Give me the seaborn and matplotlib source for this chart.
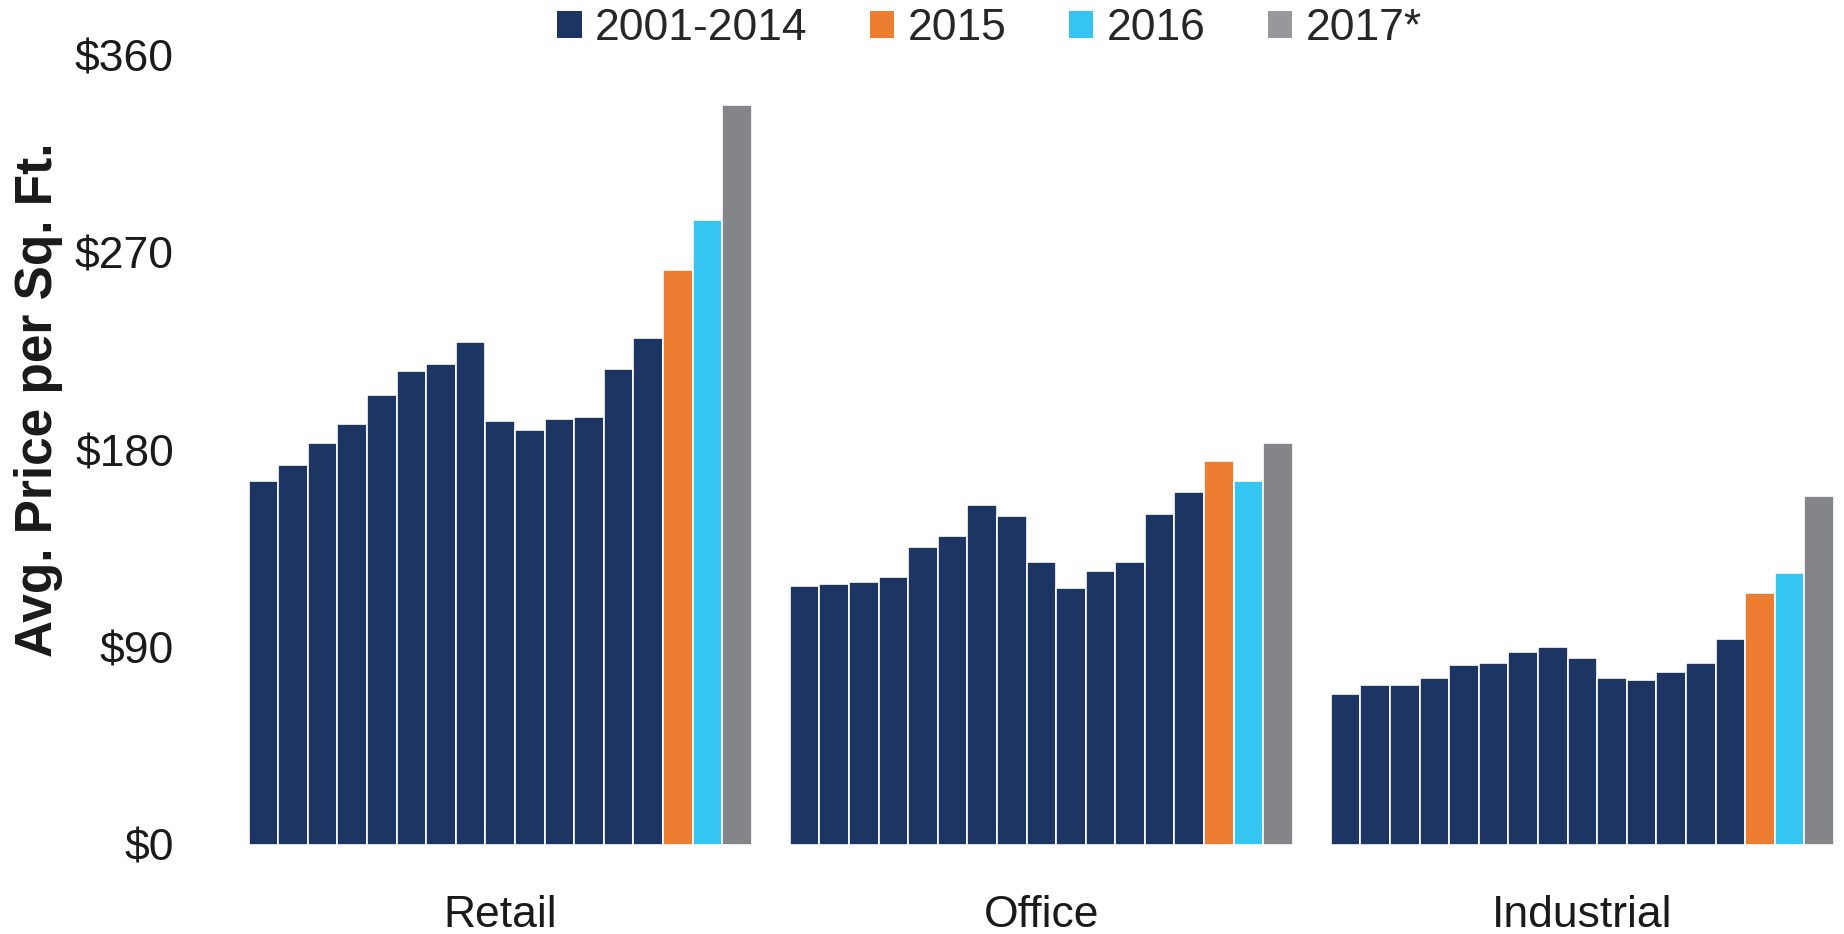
import matplotlib.pyplot as plt
import pandas as pd
import seaborn as sns
from matplotlib.patches import Patch

# Data (avg. price per sq. ft., 2001-2017)
categories = ['Retail', 'Office', 'Industrial']
years = [str(y) for y in range(2001, 2018)]
retail = [166, 173, 183, 192, 205, 216, 219, 229, 193, 189, 194, 195, 217, 231, 262, 285, 337]
office = [118, 119, 120, 122, 136, 141, 155, 150, 129, 117, 125, 129, 151, 161, 175, 166, 183]
industrial = [69, 73, 73, 76, 82, 83, 88, 90, 85, 76, 75, 79, 83, 94, 115, 124, 159]
legend_labels = ['2001-2014', '2015', '2016', '2017*']

navy = '#1c3562'
orange = '#ed7d31'
cyan = '#35c5f2'
gray = '#848589'

palette = {y: navy for y in years[:14]}
palette['2015'] = orange
palette['2016'] = cyan
palette['2017'] = gray

rows = {'Type': [], 'Year': [], 'Price': []}
for cat, vals in zip(categories, [retail, office, industrial]):
    for yr, v in zip(years, vals):
        rows['Type'].append(cat)
        rows['Year'].append(yr)
        rows['Price'].append(v)
df = pd.DataFrame(rows)

sns.set_style('white')
plt.rcParams['font.family'] = ['Liberation Sans', 'DejaVu Sans']

fig = plt.figure(figsize=(18.44, 9.34), dpi=100)
ax = fig.add_axes([0.1334, 0.0953, 0.8626, 0.8458])

sns.barplot(data=df, x='Type', y='Price', hue='Year', hue_order=years,
            palette=palette, saturation=1, width=0.93, edgecolor='white',
            linewidth=1.2, legend=False, ax=ax)

ax.set_xlim(-0.47, 2.47)
ax.set_ylim(0, 360)
ax.set_yticks([0, 90, 180, 270, 360])
ax.set_yticklabels(['$0', '$90', '$180', '$270', '$360'])
ax.tick_params(axis='y', length=0, pad=52, labelsize=32, labelcolor='#1a1a1a')
ax.tick_params(axis='x', length=0, pad=36, labelsize=32, labelcolor='#1a1a1a')
ax.set_xlabel('')
ax.set_ylabel('')
sns.despine(ax=ax, left=True, bottom=True)

fig.text(0.021, 0.572, 'Avg. Price per Sq. Ft.', rotation=90, ha='center', va='center',
         fontsize=37, fontweight='bold', color='#1a1a1a')

handles = [Patch(facecolor=c, edgecolor='none') for c in [navy, orange, cyan, '#97989b']]
fig.legend(handles, legend_labels, loc='upper center', bbox_to_anchor=(0.5366, 1.034),
           ncol=4, frameon=False, fontsize=32, handlelength=0.55, handleheight=0.55,
           handletextpad=0.3, columnspacing=1.4)

fig.savefig('out.png', dpi=100)
